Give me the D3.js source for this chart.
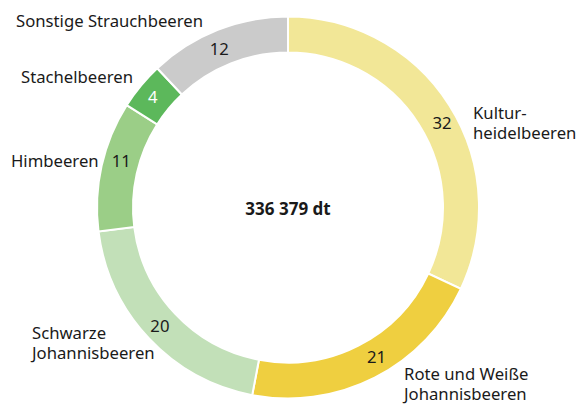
<!DOCTYPE html>
<html>
<head>
<meta charset="utf-8">
<script src="https://cdn.jsdelivr.net/npm/d3@7"></script>
<style>
  body { margin: 0; background: #fff; }
  text { font-family: "Noto Sans", sans-serif; fill: #1a1a1a; }
</style>
</head>
<body>
<div id="chart"></div>
<script>
// data
const categories = ["Kulturheidelbeeren", "Rote und Weiße Johannisbeeren", "Schwarze Johannisbeeren",
                    "Himbeeren", "Stachelbeeren", "Sonstige Strauchbeeren"];
const shares = [32, 21, 20, 11, 4, 12];
const labelLines = [["Kultur-", "heidelbeeren"], ["Rote und Weiße", "Johannisbeeren"],
                    ["Schwarze", "Johannisbeeren"], ["Himbeeren"], ["Stachelbeeren"], ["Sonstige Strauchbeeren"]];
const totalText = "336 379 dt";

// layout
const colors = ["#f2e797", "#efcf40", "#c2e0b8", "#9bce87", "#5cb85b", "#cbcbcb"];
const numberColors = ["#1a1a1a", "#1a1a1a", "#1a1a1a", "#1a1a1a", "#ffffff", "#1a1a1a"];
const numberNudge = [[8, 8], [10, -4], [-2, 0], [2, -9], [-2, 0], [-5, 2]];
const labelPos = [
  { x: 473, y: 119 }, { x: 404, y: 380 }, { x: 32, y: 339 },
  { x: 11, y: 167 }, { x: 21, y: 83 }, { x: 16, y: 27 }
];

const W = 577, H = 404;
const cx = 288, cy = 207.5, rOuter = 191, rInner = 155;

const svg = d3.select("#chart").append("svg")
  .attr("width", W).attr("height", H);

const g = svg.append("g").attr("transform", `translate(${cx},${cy})`);

const pie = d3.pie().sort(null).value(d => d);
const arc = d3.arc().innerRadius(rInner).outerRadius(rOuter);
const arcs = pie(shares);

g.selectAll("path.slice")
  .data(arcs)
  .enter()
  .append("path")
    .attr("class", "slice")
    .attr("d", arc)
    .attr("fill", (d, i) => colors[i])
    .attr("stroke", "#fff")
    .attr("stroke-width", 2);

// value labels inside the ring
g.selectAll("text.value")
  .data(arcs)
  .enter()
  .append("text")
    .attr("class", "value")
    .attr("x", (d, i) => arc.centroid(d)[0] + numberNudge[i][0])
    .attr("y", (d, i) => arc.centroid(d)[1] + numberNudge[i][1])
    .attr("dy", "0.35em")
    .attr("text-anchor", "middle")
    .style("font-size", "16.7px")
    .style("fill", (d, i) => numberColors[i])
    .text(d => d.data);

// category labels
labelLines.forEach((lines, i) => {
  const t = svg.append("text")
    .attr("x", labelPos[i].x)
    .attr("y", labelPos[i].y)
    .style("font-size", "16.7px");
  lines.forEach((ln, j) => {
    t.append("tspan")
      .attr("x", labelPos[i].x)
      .attr("dy", j === 0 ? 0 : 19.5)
      .text(ln);
  });
});

// total in the middle
g.append("text")
  .attr("text-anchor", "middle")
  .attr("dy", "0.35em")
  .attr("y", 2)
  .style("font-size", "17px")
  .style("font-weight", "bold")
  .text(totalText);
</script>
</body>
</html>
